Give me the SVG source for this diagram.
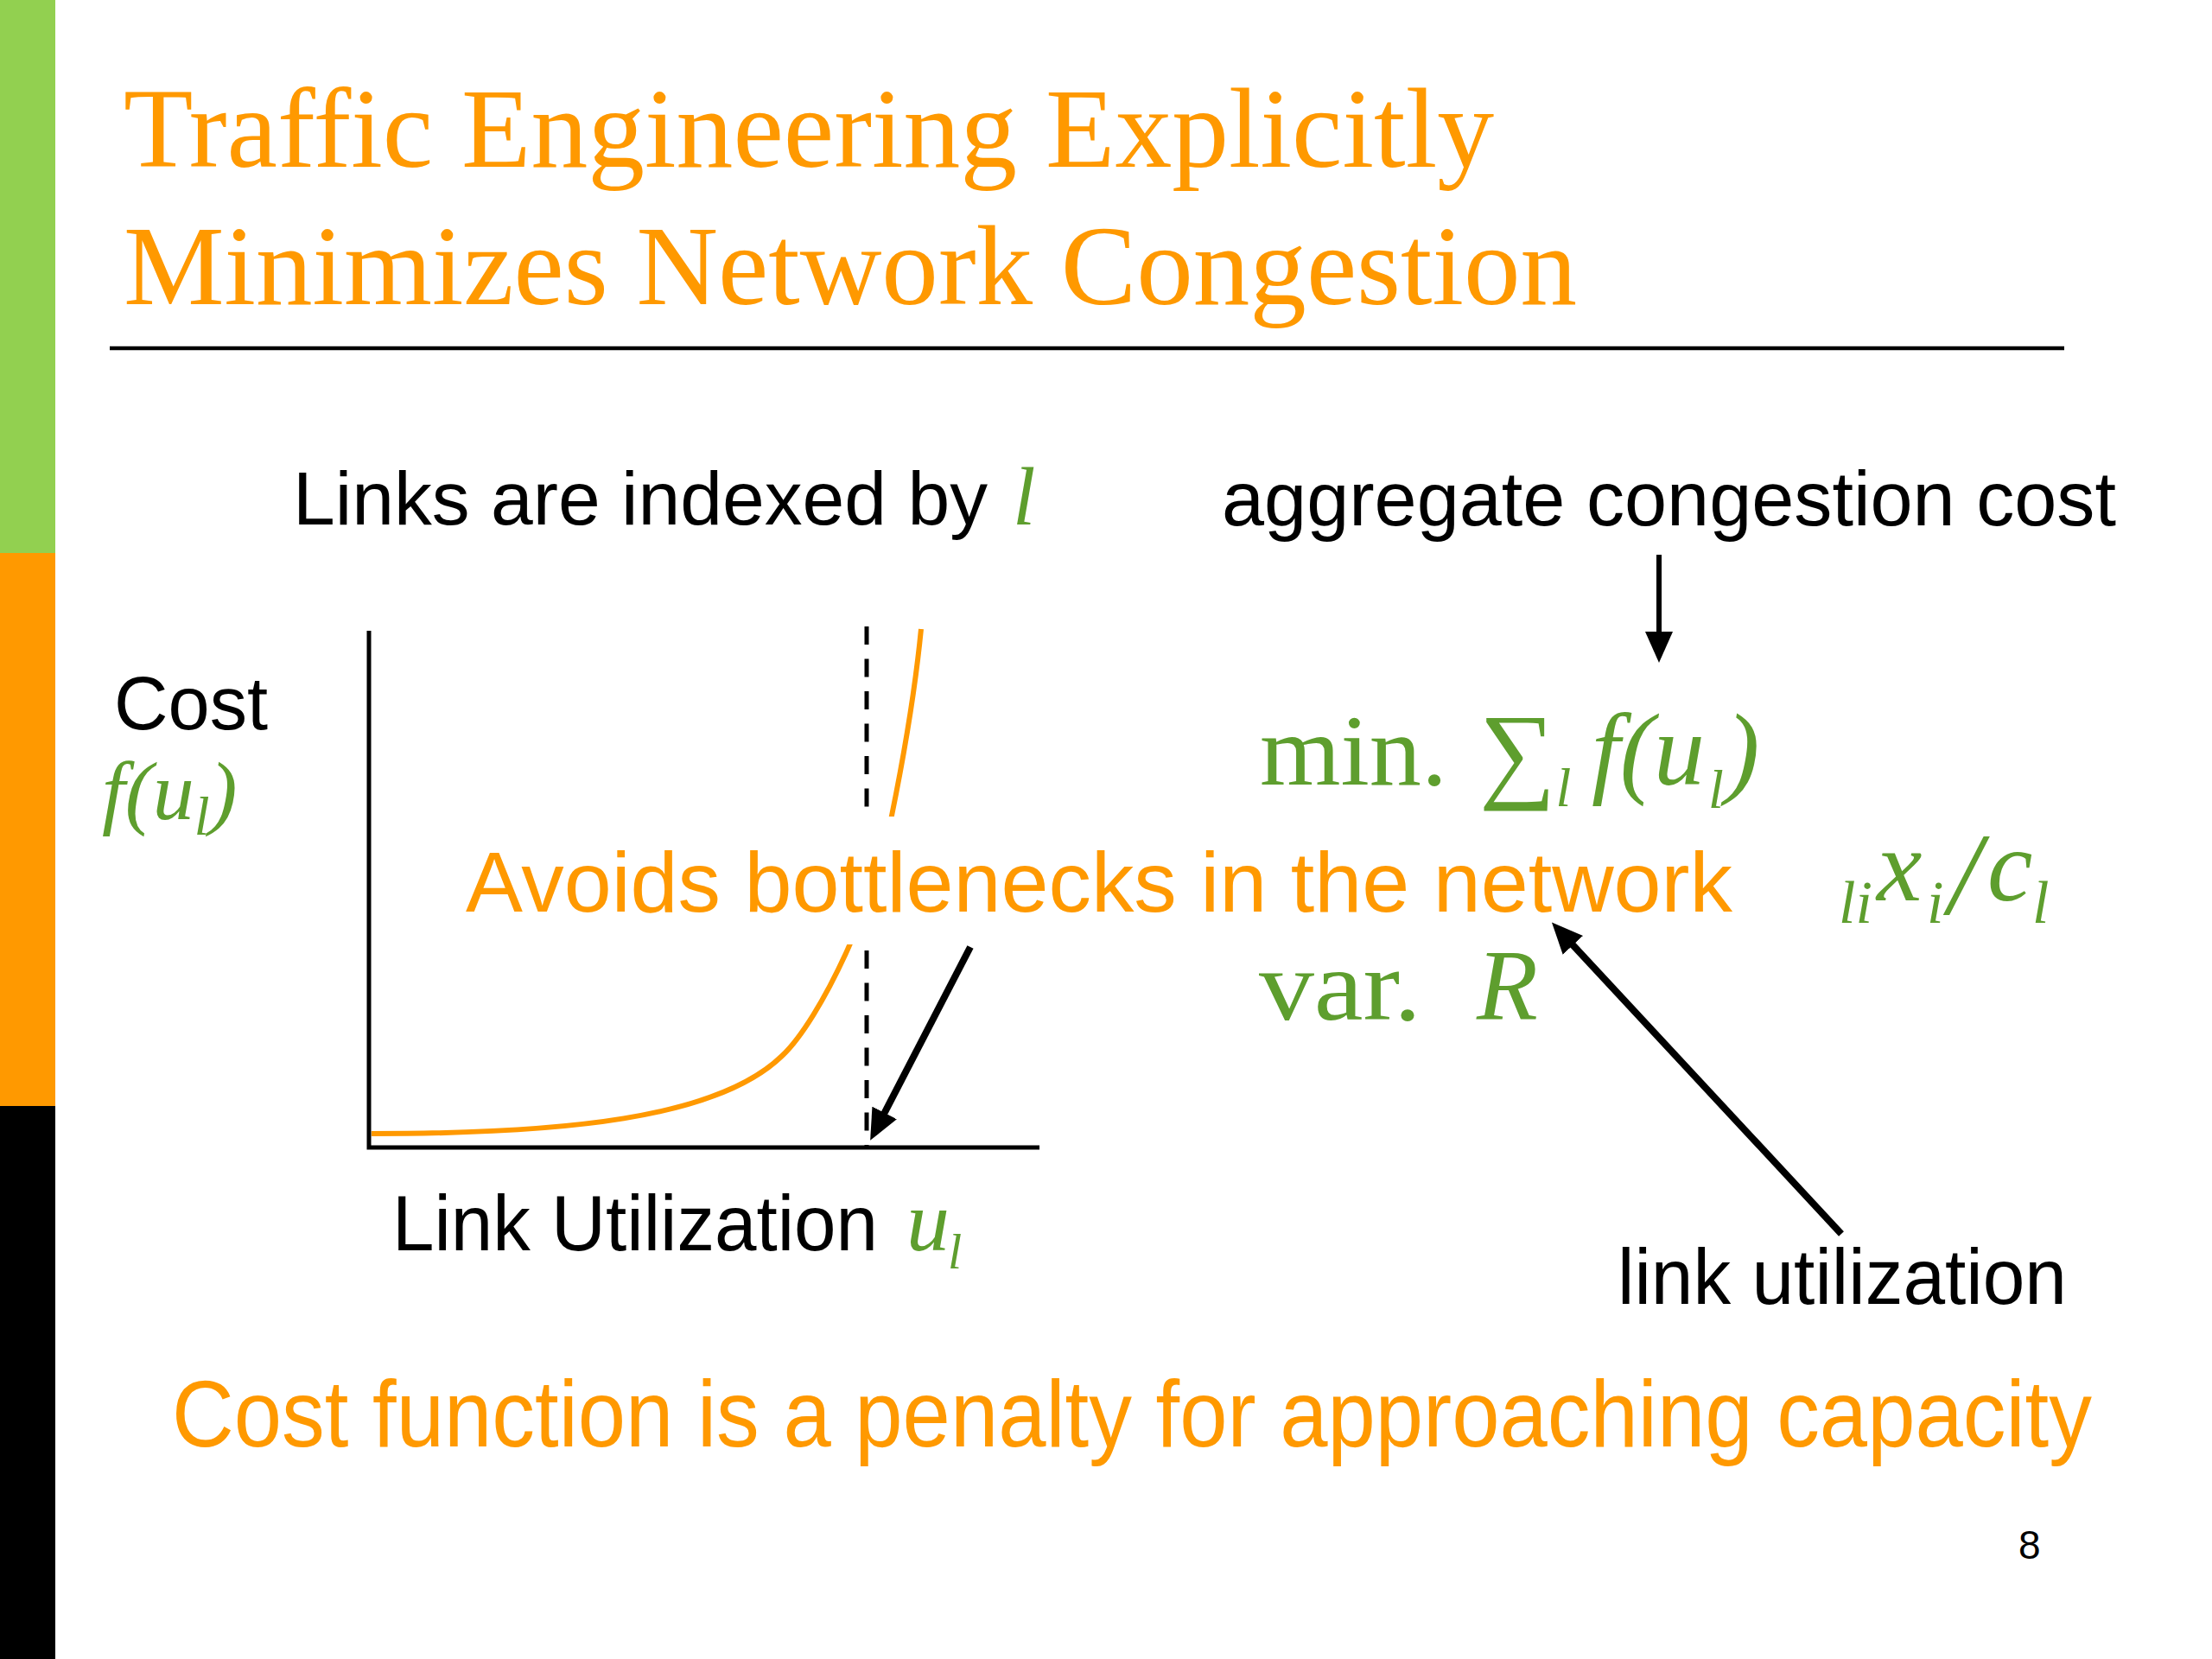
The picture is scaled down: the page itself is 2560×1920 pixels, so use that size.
<svg xmlns="http://www.w3.org/2000/svg" width="2560" height="1920" viewBox="0 0 2560 1920">
<style>
.sans{font-family:"Liberation Sans",Arial,sans-serif}
.serif{font-family:"Liberation Serif","Times New Roman",serif}
.mi{font-family:"Liberation Serif","Times New Roman",serif;font-style:italic}
.org{fill:#FF9900}
.grn{fill:#5E9E2E}
.blk{fill:#000}
.conn{stroke:#000;fill:none;marker-end:url(#ah)}
</style>
<defs>
<marker id="ah" markerUnits="userSpaceOnUse" markerWidth="36" markerHeight="32" viewBox="0 0 36 32" refX="8" refY="16" orient="auto">
<path d="M0,0 L36,16 L0,32 z" fill="#000"/>
</marker>
</defs>
<rect width="2560" height="1920" fill="#fff"/>
<g id="sidebar">
<rect x="0" y="0" width="64" height="640" fill="#92D050"/>
<rect x="0" y="640" width="64" height="640" fill="#FF9900"/>
<rect x="0" y="1280" width="64" height="640" fill="#000"/>
</g>
<g id="title">
<text x="143" y="193" class="serif org" font-size="131" textLength="1586" lengthAdjust="spacingAndGlyphs">Traffic Engineering Explicitly</text>
<text x="143" y="352" class="serif org" font-size="131" textLength="1682" lengthAdjust="spacingAndGlyphs">Minimizes Network Congestion</text>
<line x1="127" y1="403" x2="2389" y2="403" stroke="#000" stroke-width="4.5"/>
</g>
<g id="links-label">
<text x="339" y="607" class="sans blk" font-size="88" textLength="804" lengthAdjust="spacingAndGlyphs">Links are indexed by</text>
<text x="1172" y="607" class="mi grn" font-size="95">l</text>
</g>
<g id="aggregate-label">
<text x="1414" y="608" class="sans blk" font-size="89" textLength="1035" lengthAdjust="spacingAndGlyphs">aggregate congestion cost</text>
</g>
<g id="cost-label">
<text x="132" y="844" class="sans blk" font-size="87" textLength="178" lengthAdjust="spacingAndGlyphs">Cost</text>
<text x="118" y="948" class="mi grn" font-size="96">f(u<tspan dy="18" font-size="64">l</tspan><tspan dy="-18">)</tspan></text>
</g>
<g id="graph">
<path d="M427,730 L427,1328 L1203,1328" stroke="#000" stroke-width="5" fill="none"/>
<path d="M430,1312 C650,1312 830,1295 905,1222 C950,1180 1015,1040 1032,944 C1045,880 1058,810 1066,728" stroke="#FF9900" stroke-width="6" fill="none"/>
<line x1="1003" y1="725" x2="1003" y2="1326" stroke="#000" stroke-width="5" stroke-dasharray="21 16.5"/>
</g>
<g id="avoids-box">
<rect x="520" y="945" width="1588" height="148" fill="#fff"/>
<text x="539" y="1055" class="sans org" font-size="99" textLength="1466" lengthAdjust="spacingAndGlyphs">Avoids bottlenecks in the network</text>
</g>
<g id="formula">
<text x="1458" y="908" class="serif grn" font-size="116" textLength="217" lengthAdjust="spacingAndGlyphs">min.</text>
<text x="1712" y="912" class="serif grn" font-size="124">∑<tspan class="mi" font-size="64" dy="21">l</tspan></text>
<text x="1842" y="908" class="mi grn" font-size="118">f(u<tspan dx="4" dy="27" font-size="64">l</tspan><tspan dx="2" dy="-27">)</tspan></text>
<text x="2128" y="1068" class="mi grn" font-size="70">li</text>
<text x="2172" y="1042" class="mi grn" font-size="118">x</text>
<text x="2230" y="1068" class="mi grn" font-size="70">i</text>
<text x="2255" y="1058" class="mi grn" font-size="135">/</text>
<text x="2300" y="1042" class="mi grn" font-size="118">c</text>
<text x="2352" y="1068" class="mi grn" font-size="70">l</text>
<text x="1457" y="1180" class="serif grn" font-size="116" textLength="188" lengthAdjust="spacingAndGlyphs">var.</text>
<text x="1709" y="1180" class="mi grn" font-size="116">R</text>
</g>
<g id="utilization-label">
<text x="454" y="1447" class="sans blk" font-size="90" textLength="562" lengthAdjust="spacingAndGlyphs">Link Utilization</text>
<text x="1049" y="1447" class="mi grn" font-size="100">u<tspan dx="-2" dy="21" font-size="58">l</tspan></text>
</g>
<g id="link-util-label">
<text x="1872" y="1509" class="sans blk" font-size="90" textLength="520" lengthAdjust="spacingAndGlyphs">link utilization</text>
</g>
<g id="footer">
<text transform="translate(199,1674) scale(0.904,1)" class="sans org" font-size="110">Cost function is a penalty for approaching capacity</text>
<text x="2336" y="1804" class="sans blk" font-size="46">8</text>
</g>
<g id="connectors">
<line class="conn" x1="1920" y1="642" x2="1920" y2="739" stroke-width="6"/>
<line class="conn" x1="1123" y1="1096" x2="1020" y2="1295" stroke-width="8"/>
<line class="conn" x1="2131" y1="1428" x2="1815" y2="1088" stroke-width="8"/>
</g>
</svg>
